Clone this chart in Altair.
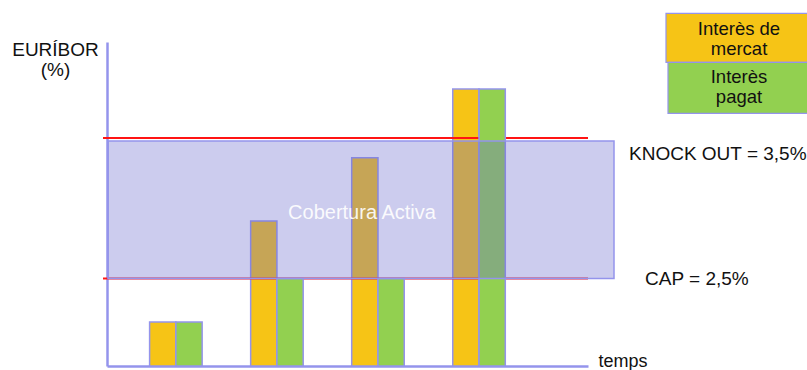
import altair as alt
import pandas as pd

# Time periods and the two interest-rate series (EURÍBOR, %)
PERIODES = [1, 2, 3, 4]
SERIES = ["Interès de mercat", "Interès pagat"]
COLORS = ["#f6c416", "#92d050"]
INTERES_MERCAT = [2.19, 2.91, 3.36, 3.85]
INTERES_PAGAT = [2.19, 2.50, 2.50, 3.85]

# Hedge limits
CAP = 2.5
KNOCK_OUT = 3.5

# Visible range of the rate axis
EIX_MIN, EIX_MAX = 1.876, 4.185

LEGEND_LINES = [["Interès de", "mercat"], ["Interès", "pagat"]]

FONT = "Liberation Sans"
AXIS_BLUE = "#9494ec"
INK = "#111111"


def pct(v):
    return f"{v:.1f}".replace(".", ",") + "%"


bars = pd.DataFrame({
    "periode": PERIODES * 2,
    "serie": [SERIES[0]] * len(PERIODES) + [SERIES[1]] * len(PERIODES),
    "valor": INTERES_MERCAT + INTERES_PAGAT,
})
limits = pd.DataFrame({
    "valor": [KNOCK_OUT, CAP],
    "etiqueta": [f"KNOCK OUT = {pct(KNOCK_OUT)}", f"CAP = {pct(CAP)}"],
})
cover = pd.DataFrame({"des": [CAP], "fins": [KNOCK_OUT], "etiqueta": ["Cobertura Activa"]})

y_scale = alt.Scale(domain=[EIX_MIN, EIX_MAX], zero=False, nice=False)
y_axis = alt.Axis(
    labels=False, ticks=False, grid=False,
    domainColor=AXIS_BLUE, domainWidth=2.5,
    title=["EURÍBOR", "(%)"], titleAngle=0, titleX=-52, titleY=13,
    titleAlign="center", titleBaseline="alphabetic", titleFont=FONT,
    titleFontSize=19, titleFontWeight="normal", titleColor=INK, titleLineHeight=20,
)
x_enc = alt.X(
    "periode:O",
    scale=alt.Scale(paddingInner=0.48, paddingOuter=0.62, align=0.34),
    axis=alt.Axis(
        labels=False, ticks=False, grid=False,
        domainColor=AXIS_BLUE, domainWidth=2.5,
        title="temps", titleX=491, titleY=0.5, titleAlign="left",
        titleBaseline="alphabetic", titleFont=FONT, titleFontSize=18,
        titleFontWeight="normal", titleColor=INK,
    ),
)
color_enc = alt.Color("serie:N", scale=alt.Scale(domain=SERIES, range=COLORS), legend=None)


def bar_layer(serie):
    return alt.Chart(bars).transform_filter(alt.datum.serie == serie).mark_bar(
        stroke=AXIS_BLUE, strokeWidth=1.5
    ).encode(
        x=x_enc,
        xOffset=alt.XOffset("serie:N", scale=alt.Scale(domain=SERIES, paddingInner=0, paddingOuter=0)),
        y=alt.Y("valor:Q", scale=y_scale, axis=y_axis),
        y2=alt.datum(EIX_MIN),
        color=color_enc,
    )


# Cap and knock-out levels
rules = alt.Chart(limits).mark_rule(color="#ff1414", strokeWidth=2).encode(
    x=alt.value(-4), x2=alt.value(481),
    y=alt.Y("valor:Q", scale=y_scale, axis=y_axis),
)

# Shaded band where the hedge is active
cover_rect = alt.Chart(cover).mark_rect(
    fill="#6d6dce", fillOpacity=0.35, stroke=AXIS_BLUE, strokeWidth=1.5, yOffset=3
).encode(
    x=alt.value(1), x2=alt.value(507),
    y=alt.Y("fins:Q", scale=y_scale, axis=y_axis), y2="des:Q",
)
cover_text = alt.Chart(cover).transform_calculate(
    mig="(datum.des + datum.fins) / 2"
).mark_text(
    font=FONT, fontSize=20, color="#ffffff", opacity=0.9, align="center", baseline="middle", dy=5
).encode(
    x=alt.value(255), y=alt.Y("mig:Q", scale=y_scale, axis=y_axis), text="etiqueta:N",
)

# Level labels to the right of the band
label_pos = {KNOCK_OUT: (522, 15.5), CAP: (538, 1)}
level_labels = [
    alt.Chart(limits).transform_filter(alt.datum.valor == v).mark_text(
        font=FONT, fontSize=19, color=INK, align="left", baseline="middle", dy=dy
    ).encode(x=alt.value(xp), y=alt.Y("valor:Q", scale=y_scale, axis=y_axis), text="etiqueta:N")
    for v, (xp, dy) in label_pos.items()
]

# Key boxes in the upper-right corner
key_boxes = [(559, -28.7, 20.3, -13), (561, 20.3, 71.3, 35)]
legend_layers = []
for serie, lines, (x0, y0, y1, yt) in zip(SERIES, LEGEND_LINES, key_boxes):
    item = pd.DataFrame({"serie": [serie]})
    legend_layers.append(
        alt.Chart(item).mark_rect(stroke=AXIS_BLUE, strokeWidth=1.2).encode(
            x=alt.value(x0), x2=alt.value(730), y=alt.value(y0), y2=alt.value(y1), color=color_enc
        )
    )
    legend_layers.append(
        alt.Chart(item).mark_text(
            text=lines, font=FONT, fontSize=18.5, lineHeight=20, color=INK,
            align="center", baseline="middle"
        ).encode(x=alt.value(632), y=alt.value(yt))
    )

chart = alt.layer(
    bar_layer(SERIES[0]),
    rules,
    bar_layer(SERIES[1]),
    cover_rect,
    cover_text,
    *level_labels,
    *legend_layers,
).properties(
    width=481,
    height=324,
    autosize=alt.AutoSizeParams(type="none"),
    padding={"left": 107, "top": 42, "right": 219, "bottom": 4},
).configure_view(stroke=None)

chart.save("out.html", embed_options={"renderer": "svg", "actions": False})
